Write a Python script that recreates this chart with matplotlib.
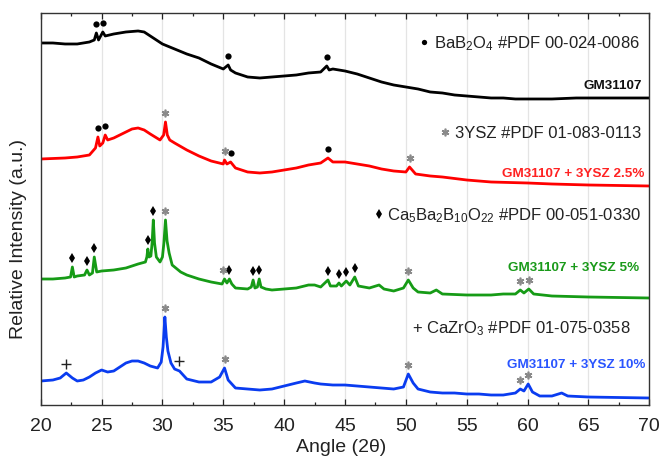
import numpy as np
import matplotlib
matplotlib.use("Agg")
import matplotlib.pyplot as plt

plt.rcParams['font.family'] = ['Liberation Sans', 'DejaVu Sans']
plt.rcParams['mathtext.fontset'] = 'custom'
plt.rcParams['mathtext.rm'] = 'Liberation Sans'
plt.rcParams['mathtext.default'] = 'regular'

# ---------------- data (angle 2theta, relative intensity, offset-stacked) ----------------
angle_black = [20, 21, 22, 23, 24, 24.4, 24.57, 24.75, 25.1, 25.3, 26, 27, 28, 28.5, 29, 30, 31, 32, 33, 34,
               35, 35.4, 35.6, 36, 37, 38, 39, 40, 41, 42, 43, 43.5, 43.7, 44, 45, 46, 47, 48, 49, 50,
               51, 52, 53, 54, 55, 56, 57, 58, 59, 60, 62, 64, 66, 68, 70]
int_black = [360, 360, 359, 359, 361, 363, 370, 363, 371, 367, 369, 371, 372, 371, 367, 359, 354, 349, 345, 339,
             334, 338, 333, 330, 326, 325, 326, 327, 328, 330, 331, 337, 333, 334, 332, 329, 325, 321, 318, 316,
             314, 311, 310, 308, 307, 306, 305, 305, 304, 304, 304, 305, 305, 305, 305]

angle_red = [20, 22, 23, 24, 24.5, 24.7, 24.85, 25.1, 25.3, 25.5, 26, 27, 27.5, 28, 28.5, 29, 29.8, 30.1, 30.25,
             30.4, 30.6, 31, 32, 33, 34, 35, 35.1, 35.3, 35.6, 36, 37, 38, 39, 40, 41, 42, 43, 43.6, 44, 45,
             46, 47, 48, 49, 50, 50.3, 50.8, 52, 53, 55, 57, 60, 62, 65, 70]
int_red = [244, 245, 246, 248, 255, 266, 257, 260, 268, 263, 265, 271, 274, 275, 273, 269, 263, 268, 281,
           268, 263, 260, 253, 247, 242, 239, 243, 239, 241, 235, 231, 230, 231, 233, 235, 238, 240, 245, 241, 241,
           239, 237, 234, 232, 231, 236, 229, 227, 226, 223, 221, 220, 219, 218, 217]

angle_green = [20, 21, 22, 22.45, 22.6, 22.75, 23, 23.6, 23.8, 24.0, 24.25, 24.4, 24.6, 25, 26, 27, 28, 28.6,
               28.72, 28.8, 28.9, 29.05, 29.15, 29.25, 29.35, 29.5, 29.8, 30.0, 30.12, 30.25, 30.38, 30.55, 30.8,
               31.5, 32, 33, 34, 34.9, 35.1, 35.3, 35.5, 35.7, 36, 37, 37.3, 37.45, 37.6, 37.8, 37.95, 38.1,
               38.5, 39, 40, 41, 42, 42.5, 43, 43.6, 43.8, 44.3, 44.5, 44.7, 45.1, 45.4, 45.8, 46.1, 47, 47.8,
               48.2, 49, 49.8, 50.2, 50.6, 51, 52, 52.5, 53, 55, 57, 58, 59, 59.4, 59.7, 60.1, 60.5, 62, 65, 70]
int_green = [124, 124, 125, 126, 136, 126, 127, 128, 133, 128, 130, 146, 131, 132, 133, 135, 139, 141,
             146, 154, 146, 147, 160, 183, 160, 146, 141, 146, 160, 183, 162, 150, 138,
             131, 128, 124, 121, 119, 124, 120, 124, 119, 115, 114, 116, 123, 115, 116, 124, 116,
             114, 113, 114, 115, 118, 118, 116, 123, 117, 117, 120, 117, 122, 118, 126, 117, 115, 118,
             114, 112, 115, 123, 115, 111, 110, 113, 109, 108, 108, 109, 109, 113, 110, 114, 109, 107, 106, 105]

angle_blue = [20, 21, 21.6, 22.1, 22.6, 23, 23.5, 24, 24.5, 25, 25.5, 26, 26.5, 27, 27.5, 28, 28.5, 29, 29.6,
              29.9, 30.05, 30.2, 30.32, 30.45, 30.7, 31.0, 31.4, 31.7, 32, 33, 34, 34.7, 35.1, 35.4, 36, 37,
              38, 39, 40, 41, 41.7, 42.5, 43, 44, 45, 46, 47, 48, 49, 49.8, 50.2, 50.6, 51, 52, 53, 54, 55,
              56, 57, 58, 59, 59.4, 59.7, 60.05, 60.4, 61, 62, 62.8, 63.3, 65, 70]
int_blue = [22, 23, 25, 30, 25, 22, 23, 26, 30, 33, 31, 32, 36, 40, 42, 42, 40, 37, 35,
            41, 56, 86, 66, 52, 40, 34, 32, 28, 24, 21, 21, 26, 35, 23, 15, 14,
            13, 14, 17, 20, 22, 20, 19, 18, 18, 17, 16, 15, 14, 16, 29, 20, 14, 11, 10, 10, 9,
            9, 8, 8, 10, 14, 12, 19, 11, 7, 7, 10, 7, 6, 5]

sample_labels = ["GM31107", "GM31107 + 3YSZ 2.5%", "GM31107 + 3YSZ 5%", "GM31107 + 3YSZ 10%"]
phase_labels = ["BaB$_2$O$_4$ #PDF 00-024-0086", "3YSZ #PDF 01-083-0113",
                "Ca$_5$Ba$_2$B$_{10}$O$_{22}$ #PDF 00-051-0330", "+ CaZrO$_3$ #PDF 01-075-0358"]

# peak identification markers (angles)
black_dot_angles = [24.57, 25.1, 35.4, 43.5]
red_dot_angles = [24.7, 25.3, 35.6, 43.6]
red_star_angles = [30.25, 35.1, 50.3]
green_diamond_angles = [22.6, 23.8, 24.4, 28.8, 29.25, 35.5, 37.45, 37.95, 43.6, 44.5, 45.1, 45.8]
green_star_angles = [30.25, 35.0, 50.2, 59.4, 60.1]
blue_star_angles = [30.2, 35.1, 50.2, 59.4, 60.05]
blue_plus_angles = [22.1, 31.4]

x_ticks = [20, 25, 30, 35, 40, 45, 50, 55, 60, 65, 70]

# ---------------- styling ----------------
c_black, c_red, c_green, c_blue = '#000000', '#ff0000', '#169b16', '#0a3cf0'
c_star = '#8a8a8a'

fig = plt.figure(figsize=(6.6, 4.58), dpi=100)
ax = fig.add_axes([0.0617, 0.1157, 0.9221, 0.8566])

for xv in x_ticks[1:-1]:
    ax.axvline(xv, color='#e4e4e4', lw=0.9, zorder=0)

curves = [(angle_black, int_black, c_black), (angle_red, int_red, c_red),
          (angle_green, int_green, c_green), (angle_blue, int_blue, c_blue)]
for xa, ya, col in curves:
    ax.plot(xa, ya, color=col, lw=2.0, solid_joinstyle='round', zorder=2)


def peak_heights(xa, ya, angles, off=9, win=0.15):
    out = []
    for a in angles:
        g = np.linspace(a - win, a + win, 31)
        out.append(np.max(np.interp(g, xa, ya)) + off)
    return out


def mark(xa, ya, angles, kind):
    hs = peak_heights(xa, ya, angles)
    if kind == 'dot':
        ax.plot(angles, hs, 'o', color='black', ms=4.5, mew=0, zorder=4)
    elif kind == 'diamond':
        ax.plot(angles, hs, 'd', color='black', ms=5.5, mew=0, zorder=4)
    elif kind == 'star':
        ax.plot(angles, hs, marker=(6, 2, 0), ls='none', color=c_star, ms=5.5, mew=1.2, zorder=4)
    elif kind == 'plus':
        ax.plot(angles, hs, '+', color='#222222', ms=7, mew=1.0, zorder=4)


mark(angle_black, int_black, black_dot_angles, 'dot')
mark(angle_red, int_red, red_dot_angles, 'dot')
mark(angle_red, int_red, red_star_angles, 'star')
mark(angle_green, int_green, green_diamond_angles, 'diamond')
mark(angle_green, int_green, green_star_angles, 'star')
mark(angle_blue, int_blue, blue_star_angles, 'star')
mark(angle_blue, int_blue, blue_plus_angles, 'plus')

# sample labels
lab_pos = [(69.43, 313.5), (69.6, 226), (69.18, 132), (69.7, 35)]
for (lx, ly), txt, col in zip(lab_pos, sample_labels,
                               ['#111111', '#ff2222', '#1a9a1a', '#2a55ff']):
    ax.text(lx, ly, txt, color=col, fontsize=9.7, fontweight='bold', ha='right', va='baseline', zorder=5)

# phase labels
ph_pos = [(69.18, 355), (69.34, 265), (69.32, 183), (68.5, 70)]
ph_txt = []
for (lx, ly), txt in zip(ph_pos, phase_labels):
    ph_txt.append(ax.text(lx, ly, txt, color='#222222', fontsize=12, ha='right', va='baseline', zorder=5))

ax.set_xlim(20, 70)
ax.set_ylim(-2, 390.3)
ax.set_xticks(x_ticks)
ax.set_xticks(np.arange(22.5, 70, 5), minor=True)
ax.set_yticks([])
ax.tick_params(axis='x', which='both', direction='in', top=True, bottom=True, labelsize=14,
               pad=9, colors='#222222')
ax.tick_params(axis='x', which='major', length=4.5, width=0.9)
ax.tick_params(axis='x', which='minor', length=2.5, width=0.9)
for s in ax.spines.values():
    s.set_color('#333333')
    s.set_linewidth(1.0)

fig.text(341 / 660, 1 - 448 / 458, "Angle (2θ)", fontsize=14, ha='center', va='center', color='#222222')
fig.text(19 / 660, 1 - 239 / 458, "Relative Intensity (a.u.)", fontsize=14, rotation=90,
         ha='center', va='center', color='#222222')

# legend symbols placed just left of the phase texts
fig.canvas.draw()
inv = ax.transData.inverted()
sym = [('o', 'black', 3.8, 10), ((6, 2, 0), c_star, 5.5, 10), ('d', 'black', 5.5, 8)]
for t, (m, col, ms, gap) in zip(ph_txt[:3], sym):
    bb = t.get_window_extent()
    bx, by = t.get_transform().transform(t.get_position())
    px, py = inv.transform((bb.x0 - gap, by + 5.5))
    ax.plot([px], [py], marker=m, color=col, ms=ms, mew=1.2 if m != 'o' and m != 'd' else 0,
            ls='none', zorder=5, clip_on=False)

fig.savefig("out.png", dpi=100)
